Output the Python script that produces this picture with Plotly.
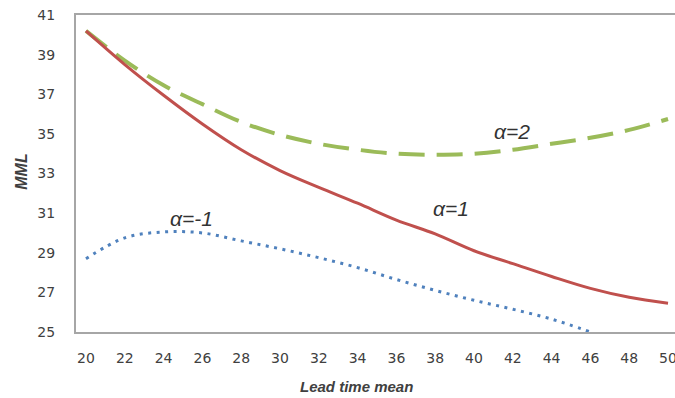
import plotly.graph_objects as go

lead_time = [20, 22, 24, 26, 28, 30, 32, 34, 36, 38, 40, 42, 44, 46, 48, 50]
mml_alpha2 = [40.2, 38.7, 37.45, 36.5, 35.6, 34.95, 34.5, 34.2, 34.0, 33.95, 34.0, 34.2, 34.5, 34.8, 35.2, 35.75]
mml_alpha1 = [40.2, 38.5, 36.95, 35.5, 34.2, 33.15, 32.3, 31.5, 30.65, 29.95, 29.1, 28.45, 27.8, 27.2, 26.75, 26.45]
lead_time_neg = [20, 22, 24, 26, 28, 30, 32, 34, 36, 38, 40, 42, 44, 46]
mml_alpha_neg1 = [28.7, 29.75, 30.05, 30.0, 29.6, 29.2, 28.75, 28.25, 27.65, 27.1, 26.6, 26.15, 25.65, 25.0]

y_ticks = [25, 27, 29, 31, 33, 35, 37, 39, 41]
x_ticks = list(range(20, 51, 2))

fig = go.Figure()
fig.add_trace(go.Scatter(x=lead_time, y=mml_alpha2, mode="lines", line_shape="spline",
                         line=dict(color="#9BBB59", width=4, dash="26px,12px"), name="α=2"))
fig.add_trace(go.Scatter(x=lead_time, y=mml_alpha1, mode="lines", line_shape="spline",
                         line=dict(color="#C0504D", width=3), name="α=1"))
fig.add_trace(go.Scatter(x=lead_time_neg, y=mml_alpha_neg1, mode="lines", line_shape="spline",
                         line=dict(color="#4F81BD", width=3, dash="3px,5.5px"), name="α=-1"))

lab_font = dict(family="Liberation Sans", size=21, color="#333333")
for txt, x, y in [("α=2", 41.95, 35.1), ("α=1", 38.8, 31.25), ("α=-1", 25.45, 30.75)]:
    fig.add_annotation(x=x, y=y, text=f"<i>{txt}</i>", showarrow=False, font=lab_font,
                       xanchor="center", yanchor="middle")

fig.add_annotation(xref="paper", yref="paper", x=0.469, y=-0.173, text="<b><i>Lead time mean</i></b>",
                   showarrow=False, font=dict(family="Liberation Sans", size=15, color="#404040"),
                   xanchor="center", yanchor="middle")
fig.add_annotation(xref="paper", yref="paper", x=-0.0905, y=0.505, text="<b><i>MML</i></b>", textangle=-90,
                   showarrow=False, font=dict(family="Liberation Sans", size=16, color="#404040"),
                   xanchor="center", yanchor="middle")

tick_font = dict(family="DejaVu Sans", size=14, color="#404040")
fig.update_layout(
    width=675, height=398,
    margin=dict(l=76, r=0, t=15, b=66, autoexpand=False),
    plot_bgcolor="white", paper_bgcolor="white",
    showlegend=False,
    xaxis=dict(range=[19.485, 50.36], tickvals=x_ticks, showgrid=False, zeroline=False,
               showline=True, linecolor="#A6A6A6", linewidth=2, mirror=True, automargin=False,
               ticklabeloverflow="allow",
               ticks="outside", ticklen=12, tickcolor="rgba(0,0,0,0)", tickfont=tick_font),
    yaxis=dict(range=[25, 41], tickvals=y_ticks, showgrid=False, zeroline=False,
               showline=True, linecolor="#A6A6A6", linewidth=2, automargin=False,
               ticks="outside", ticklen=16, tickcolor="rgba(0,0,0,0)", tickfont=tick_font),
)

fig.write_html("out.html", config={"displayModeBar": False},
               post_script="document.body.style.margin='0';document.body.style.padding='0';"
                           "document.documentElement.style.overflow='hidden';")
